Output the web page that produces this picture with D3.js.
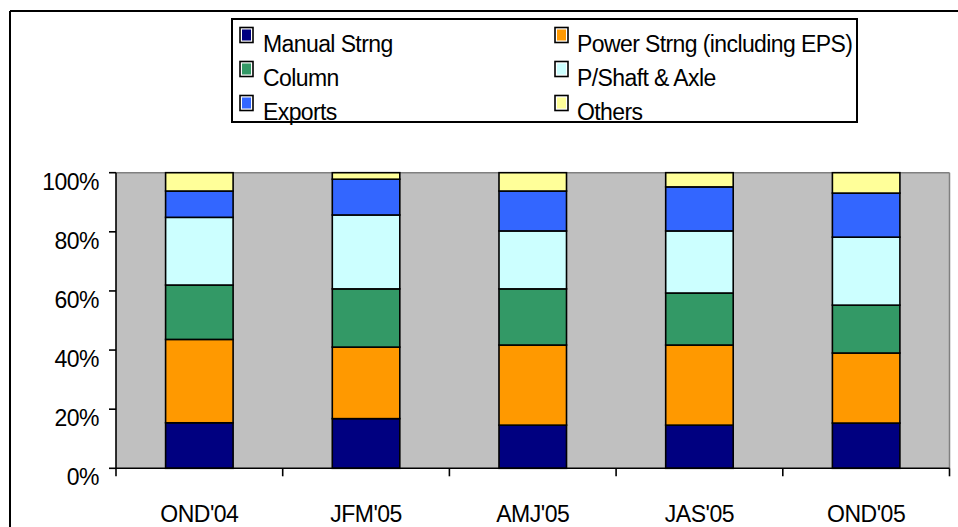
<!DOCTYPE html>
<html><head><meta charset="utf-8">
<script src="https://cdn.jsdelivr.net/npm/d3@7"></script>
<style>body{margin:0;background:#fff;overflow:hidden} text{font-family:"Liberation Sans",Arial,sans-serif;fill:#000}</style>
</head><body><svg id="c" width="958" height="527"></svg>
<script>
const categories = ["OND'04","JFM'05","AMJ'05","JAS'05","OND'05"];
const seriesNames = ["Manual Strng","Power Strng (including EPS)","Column","P/Shaft & Axle","Exports","Others"];
const manual   = [15.4,16.8,14.6,14.6,15.3];
const power    = [28.2,24.2,27.1,27.1,23.7];
const column   = [18.4,19.7,19.0,17.6,16.2];
const shaft    = [22.9,25.0,19.6,21.0,23.0];
const exportsV = [8.9,12.1,13.5,14.9,14.9];
const others   = [6.2,2.2,6.2,4.8,6.9];
const yTicks = [0,20,40,60,80,100];
const colors = ["#000080","#FF9900","#339966","#CCFFFF","#3366FF","#FFFF99"];

const seriesValues = [manual,power,column,shaft,exportsV,others];
const rows = categories.map((c,i)=>{const r={cat:c}; seriesNames.forEach((s,j)=>r[s]=seriesValues[j][i]); return r;});
const stacked = d3.stack().keys(seriesNames).offset(d3.stackOffsetExpand)(rows);

const svg = d3.select("#c");
const L=116, R=949.5, T=172.7, B=468.3;

// outer frame
svg.append("line").attr("x1",10).attr("y1",11).attr("x2",10).attr("y2",527).attr("stroke","#000").attr("stroke-width",2);
svg.append("line").attr("x1",10).attr("y1",11).attr("x2",958).attr("y2",11).attr("stroke","#000").attr("stroke-width",2);

const xOuter = d3.scaleBand().domain(categories).range([L,R]).padding(0);
const x = d3.scaleBand().domain(categories).range([L,R]).paddingInner(0.595).paddingOuter(0.2975);
const y = d3.scaleLinear().domain([0,1]).range([B,T]);

// plot area
svg.append("rect").attr("x",L).attr("y",T).attr("width",R-L).attr("height",B-T).attr("fill","#C0C0C0");
svg.append("line").attr("x1",L).attr("y1",T).attr("x2",R).attr("y2",T).attr("stroke","#808080").attr("stroke-width",1.5);
svg.append("line").attr("x1",R).attr("y1",T).attr("x2",R).attr("y2",B).attr("stroke","#808080").attr("stroke-width",1.5);

// bars
stacked.forEach((s,j)=>{
  svg.append("g").selectAll("rect").data(s).join("rect")
    .attr("x",d=>x(d.data.cat)).attr("width",x.bandwidth())
    .attr("y",d=>y(d[1])).attr("height",d=>y(d[0])-y(d[1]))
    .attr("fill",colors[j]).attr("stroke","#000").attr("stroke-width",1.6);
});

// y axis
const ya = svg.append("g");
ya.append("line").attr("x1",L).attr("y1",T).attr("x2",L).attr("y2",B).attr("stroke","#000").attr("stroke-width",1.6);
yTicks.forEach(t=>{
  const yy=y(t/100);
  ya.append("line").attr("x1",L-7).attr("x2",L).attr("y1",yy).attr("y2",yy).attr("stroke","#000").attr("stroke-width",1.6);
  ya.append("text").attr("x",99).attr("y",yy+17).attr("text-anchor","end").attr("font-size",23).attr("letter-spacing",-0.5).text(t+"%");
});

// x axis
const xa = svg.append("g");
xa.append("line").attr("x1",L).attr("y1",B).attr("x2",R).attr("y2",B).attr("stroke","#000").attr("stroke-width",1.6);
const bounds = categories.map(c=>xOuter(c)).concat([R]);
bounds.forEach(b=>{
  xa.append("line").attr("x1",b).attr("x2",b).attr("y1",B).attr("y2",B+8).attr("stroke","#000").attr("stroke-width",1.6);
});
categories.forEach(c=>{
  xa.append("text").attr("x",xOuter(c)+xOuter.bandwidth()/2).attr("y",522).attr("text-anchor","middle").attr("font-size",23).attr("letter-spacing",-0.5).text(c);
});

// legend
const lg = svg.append("g");
lg.append("rect").attr("x",232).attr("y",19).attr("width",625).attr("height",103).attr("fill","#fff").attr("stroke","#000").attr("stroke-width",2);
const colX=[240,555], textX=[263,577], swTop=[27.5,61.5,95.5], base=[52,86,120];
seriesNames.forEach((s,i)=>{
  const c=i%2, r=Math.floor(i/2);
  lg.append("rect").attr("x",colX[c]).attr("y",swTop[r]).attr("width",13).attr("height",15).attr("fill","#fff").attr("stroke","#000").attr("stroke-width",1.6);
  lg.append("rect").attr("x",colX[c]+2).attr("y",swTop[r]+2).attr("width",9).attr("height",11).attr("fill",colors[i]);
  lg.append("text").attr("x",textX[c]).attr("y",base[r]).attr("font-size",23).attr("letter-spacing",-0.6).text(s);
});
</script></body></html>
